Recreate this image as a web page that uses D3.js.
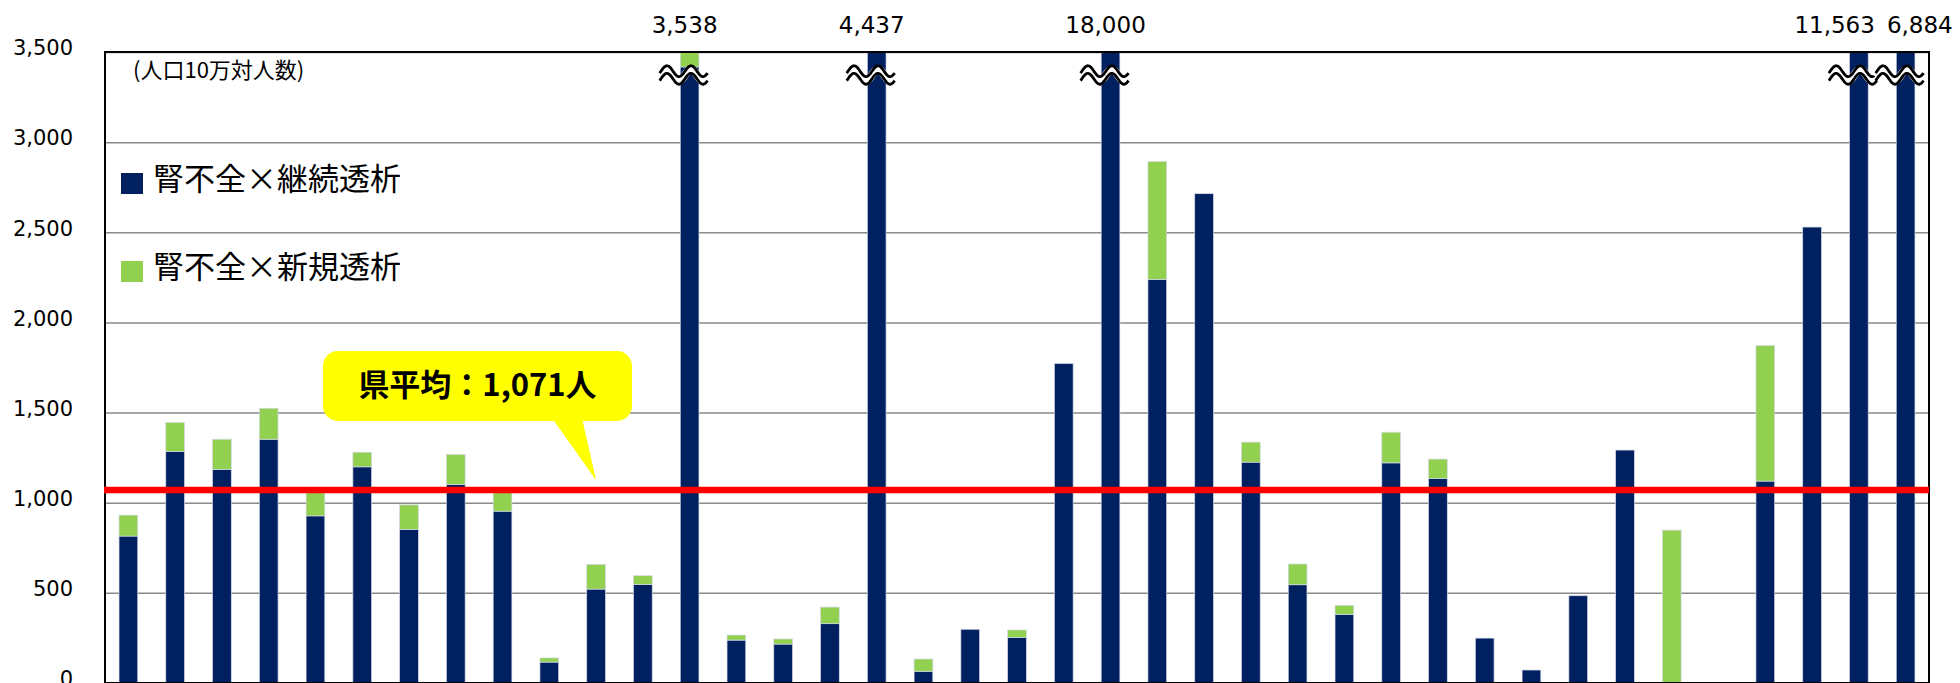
<!DOCTYPE html>
<html>
<head>
<meta charset="utf-8">
<script src="https://cdn.jsdelivr.net/npm/d3@7"></script>
<style>
  body { margin: 0; background: #fff; }
</style>
</head>
<body>
<script>
var width = 1960;
var height = 683;
var margin = {top: 52, left: 105, right: 31, bottom: 0};

// data
var categories = ["1","2","3","4","5","6","7","8","9","10","11","12","13","14","15","16","17","18","19","20",
  "21","22","23","24","25","26","27","28","29","30","31","32","33","34","35","36","37","38","39"];
var seriesNames = ["腎不全×継続透析", "腎不全×新規透析"];
var continuing = [815, 1284, 1185, 1352, 927, 1199, 852, 1101, 953, 116, 521, 547, 3417, 238, 216, 329, 4437, 65, 298, 253,
  1772, 18000, 2239, 2714, 1225, 545, 381, 1221, 1135, 249, 72, 484, 1292, 0, 0, 1120, 2529, 11563, 6884];
var newDialysis = [116, 161, 167, 172, 135, 81, 136, 167, 107, 23, 137, 48, 121, 28, 28, 92, 0, 68, 0, 41,
  0, 0, 654, 0, 111, 115, 50, 170, 107, 0, 0, 0, 0, 848, 0, 752, 0, 0, 0];
var yTicks = [0, 500, 1000, 1500, 2000, 2500, 3000, 3500];
var axisMax = 3500;
var prefAverage = 1071;
var averageLabel = "県平均：1,071人";
var unitLabel = "(人口10万対人数)";

var colors = ["#002060", "#92D050"];

var table = categories.map(function(c, i) {
  return {cat: c, a: continuing[i], b: newDialysis[i]};
});

var svg = d3.select("body")
  .append("svg")
  .attr("width", width)
  .attr("height", height);

var xScale = d3.scaleBand()
  .domain(categories)
  .range([margin.left, width - margin.right])
  .paddingInner(0.6)
  .paddingOuter(0.3);

var yScale = d3.scaleLinear()
  .domain([0, axisMax])
  .range([height - margin.bottom, margin.top]);

// gridlines
svg.append("g")
  .attr("transform", `translate(${margin.left},0)`)
  .call(d3.axisLeft(yScale).tickValues(yTicks).tickSize(-(width - margin.left - margin.right)).tickFormat(""))
  .call(function(g) {
    g.select(".domain").remove();
    g.selectAll("line").attr("stroke", "#898989").attr("stroke-width", 1.5);
  });

// y axis labels
svg.append("g")
  .attr("transform", `translate(${margin.left},0)`)
  .call(d3.axisLeft(yScale).tickValues(yTicks).tickSize(0).tickPadding(32).tickFormat(d3.format(",")))
  .call(function(g) {
    g.select(".domain").remove();
    g.selectAll("text")
      .attr("dy", "0.13em")
      .attr("fill", "#000")
      .style("font-family", "'DejaVu Sans', Verdana, sans-serif")
      .style("font-size", "21px");
  });

// stacked bars
var stack = d3.stack().keys(["a", "b"]);
var layers = stack(table);

svg.append("g")
  .selectAll("g")
  .data(layers)
  .enter()
  .append("g")
    .attr("fill", function(d, i) { return colors[i]; })
  .selectAll("rect")
  .data(function(d) { return d; })
  .enter()
  .append("rect")
    .attr("x", function(d) { return xScale(d.data.cat); })
    .attr("y", function(d) { return yScale(Math.min(d[1], axisMax)); })
    .attr("width", xScale.bandwidth())
    .attr("height", function(d) {
      return Math.max(0, yScale(Math.min(d[0], axisMax)) - yScale(Math.min(d[1], axisMax)));
    })
    .attr("stroke", "#d3d8e6")
    .attr("stroke-width", 0.7);

// plot frame
svg.append("rect")
  .attr("x", margin.left)
  .attr("y", margin.top)
  .attr("width", width - margin.left - margin.right)
  .attr("height", height - margin.bottom - margin.top)
  .attr("fill", "none")
  .attr("stroke", "#000")
  .attr("stroke-width", 2);

// prefecture average
svg.append("line")
  .attr("x1", margin.left - 1)
  .attr("x2", width - margin.right)
  .attr("y1", yScale(prefAverage))
  .attr("y2", yScale(prefAverage))
  .attr("stroke", "#FF0000")
  .attr("stroke-width", 6.5);

// broken bars: wave symbol + real value on top
var over = table.filter(function(d) { return d.a + d.b > axisMax; });

var wavePts = d3.range(0, 1.0001, 0.02).map(function(t) {
  return [t * 48 - 24, -5.5 * Math.sin(4 * Math.PI * t - 0.35)];
});
var waveLine = d3.line().curve(d3.curveBasis);

var breaks = svg.append("g")
  .selectAll("g")
  .data(over)
  .enter()
  .append("g")
    .attr("transform", function(d) {
      return `translate(${xScale(d.cat) + xScale.bandwidth() / 2 - 6},75)`;
    });
breaks.append("path")
  .attr("d", waveLine(wavePts))
  .attr("fill", "none")
  .attr("stroke", "#fff")
  .attr("stroke-width", 8);
[-3.8, 3.8].forEach(function(off) {
  breaks.append("path")
    .attr("d", waveLine(wavePts.map(function(p) { return [p[0], p[1] + off]; })))
    .attr("fill", "none")
    .attr("stroke", "#000")
    .attr("stroke-width", 2.8);
});

var topLabels = svg.append("g")
  .selectAll("text")
  .data(over)
  .enter()
  .append("text")
    .attr("x", function(d) { return xScale(d.cat) + xScale.bandwidth() / 2 - 5; })
    .attr("y", 33)
    .attr("text-anchor", "middle")
    .style("font-family", "'DejaVu Sans', Verdana, sans-serif")
    .style("font-size", "23px")
    .attr("fill", "#000")
    .text(function(d) { return d3.format(",")(d.a + d.b); });

// push apart labels that collide
var nodes = topLabels.nodes();
for (var k = 1; k < nodes.length; k++) {
  var p = nodes[k - 1].getBBox();
  var q = nodes[k].getBBox();
  var ov = p.x + p.width + 12 - q.x;
  if (ov > 0) {
    d3.select(nodes[k - 1]).attr("x", +d3.select(nodes[k - 1]).attr("x") - ov / 2);
    d3.select(nodes[k]).attr("x", +d3.select(nodes[k]).attr("x") + ov / 2);
  }
}

// unit label
svg.append("text")
  .attr("x", 133)
  .attr("y", 78)
  .style("font-family", "'Noto Sans CJK JP', sans-serif")
  .style("font-size", "22px")
  .attr("fill", "#000")
  .text(unitLabel);

// legend
var legend = svg.append("g")
  .selectAll("g")
  .data(seriesNames)
  .enter()
  .append("g")
    .attr("transform", function(d, i) { return `translate(121,${173 + i * 88})`; });
legend.append("rect")
  .attr("width", 22)
  .attr("height", 21)
  .attr("fill", function(d, i) { return colors[i]; });
legend.append("text")
  .attr("x", 32)
  .attr("y", 17)
  .style("font-family", "'Noto Sans CJK JP', sans-serif")
  .style("font-size", "31px")
  .attr("fill", "#000")
  .text(function(d) { return d; });

// callout
var tipY = yScale(prefAverage) - 10;
var callout = svg.append("g");
callout.append("path")
  .attr("d", `M552,418 L582,418 L596,${tipY} Z`)
  .attr("fill", "#FFFF00");
callout.append("rect")
  .attr("x", 323)
  .attr("y", 351)
  .attr("width", 309)
  .attr("height", 70)
  .attr("rx", 15)
  .attr("fill", "#FFFF00");
callout.append("text")
  .attr("x", 477.5)
  .attr("y", 396)
  .attr("text-anchor", "middle")
  .style("font-family", "'Noto Sans CJK JP', sans-serif")
  .style("font-size", "31px")
  .style("font-weight", "bold")
  .attr("fill", "#000")
  .text(averageLabel);
</script>
</body>
</html>
